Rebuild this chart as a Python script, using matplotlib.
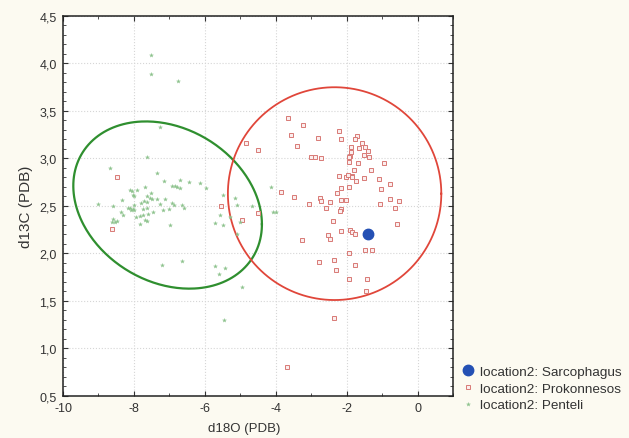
import numpy as np
import matplotlib
matplotlib.use('Agg')
import matplotlib.pyplot as plt
from matplotlib.ticker import MultipleLocator, FuncFormatter

plt.rcParams['font.family'] = ['Liberation Sans', 'DejaVu Sans']

# Datos (d18O, d13C)
sarcofago_x = [-1.40]
sarcofago_y = [2.20]

proconeso_x = [-8.47, -8.63, -5.53, -4.96, -4.83, -4.51, -4.51, -3.65, -3.23, -3.58,
               -2.22, -1.70, -2.80, -2.15, -1.77, -1.57, -3.39, -1.89, -1.65, -1.48,
               -1.40, -1.87, -1.90, -1.94, -1.51, -1.37, -3.01, -2.90, -2.73, -1.94,
               -1.67, -0.96, -1.30, -1.79, -2.22, -2.03, -1.96, -1.86, -1.84, -1.52,
               -1.09, -1.73, -0.78, -1.94, -2.17, -1.02, -3.86, -2.26, -3.48, -2.76,
               -2.73, -2.48, -2.17, -2.03, -0.79, -0.53, -1.07, -3.06, -2.59, -2.17,
               -2.20, -0.63, -2.39, -0.57, -2.15, -1.90, -1.84, -1.77, -2.54, -2.48,
               -3.26, -1.47, -1.29, -1.94, -2.36, -2.77, -1.77, -2.29, -1.94, -1.42,
               -1.46, -2.36, -3.67]
proconeso_y = [2.80, 2.26, 2.50, 2.35, 3.16, 3.09, 2.43, 3.43, 3.35, 3.25,
               3.29, 3.24, 3.22, 3.20, 3.20, 3.16, 3.13, 3.12, 3.11, 3.12,
               3.08, 3.07, 3.03, 3.02, 3.04, 3.02, 3.02, 3.02, 3.01, 2.96,
               2.95, 2.95, 2.88, 2.88, 2.82, 2.81, 2.83, 2.82, 2.80, 2.79,
               2.78, 2.76, 2.73, 2.70, 2.69, 2.68, 2.65, 2.64, 2.59, 2.58,
               2.55, 2.54, 2.56, 2.56, 2.57, 2.55, 2.52, 2.52, 2.48, 2.47,
               2.45, 2.48, 2.34, 2.31, 2.24, 2.25, 2.23, 2.21, 2.19, 2.15,
               2.14, 2.04, 2.04, 2.01, 1.93, 1.91, 1.88, 1.83, 1.73, 1.73,
               1.60, 1.32, 0.80]

penteli_x = [-7.27, -7.64, -8.68, -7.36, -7.15, -6.70, -6.45, -6.14, -5.97, -6.94,
             -6.85, -6.78, -6.70, -7.69, -8.11, -8.06, -7.91, -7.52, -8.04, -8.00,
             -7.64, -7.55, -7.50, -7.36, -7.12, -8.35, -7.72, -7.63, -7.80, -7.27,
             -6.94, -9.02, -8.58, -7.99, -6.87, -6.64, -6.59, -7.64, -8.16, -8.11,
             -8.04, -8.08, -8.00, -7.75, -7.19, -7.01, -7.46, -8.37, -8.30, -7.83,
             -7.94, -7.75, -7.60, -8.58, -8.54, -8.49, -8.63, -7.69, -7.64, -7.83,
             -6.99, -7.20, -6.65, -5.50, -5.14, -5.09, -4.66, -4.12, -4.08, -3.98,
             -5.58, -5.28, -5.70, -5.48, -5.01, -5.08, -5.72, -5.43, -5.61, -4.94,
             -7.53, -7.53, -6.75, -5.46]
penteli_y = [3.33, 3.02, 2.90, 2.85, 2.76, 2.77, 2.75, 2.74, 2.69, 2.71,
             2.71, 2.70, 2.69, 2.70, 2.67, 2.66, 2.67, 2.64, 2.62, 2.60,
             2.60, 2.58, 2.57, 2.57, 2.57, 2.56, 2.55, 2.54, 2.53, 2.52,
             2.53, 2.52, 2.50, 2.51, 2.51, 2.51, 2.48, 2.48, 2.48, 2.48,
             2.47, 2.46, 2.46, 2.47, 2.46, 2.47, 2.44, 2.44, 2.41, 2.39,
             2.38, 2.41, 2.42, 2.36, 2.33, 2.34, 2.33, 2.35, 2.34, 2.31,
             2.30, 1.88, 1.92, 2.62, 2.58, 2.51, 2.50, 2.70, 2.44, 2.44,
             2.40, 2.38, 2.32, 2.30, 2.33, 2.20, 1.87, 1.85, 1.78, 1.65,
             4.09, 3.89, 3.82, 1.30]

# Elipses de confianza: centro (x, y), semiejes en x e y, desfase
elipse_penteli = dict(cx=-7.05, cy=2.51, ax=2.66, ay=0.88, desfase=np.arccos(-0.23))
elipse_proconeso = dict(cx=-2.34, cy=2.63, ax=3.01, ay=1.12, desfase=np.pi / 2)

etiquetas = ['location2: Sarcophagus', 'location2: Prokonnesos', 'location2: Penteli']

color_fondo = '#fcfaf1'
color_rojo = '#e0463a'
color_verde = '#2f8f2f'


def curva_elipse(p, n=300):
    t = np.linspace(0, 2 * np.pi, n)
    return p['cx'] + p['ax'] * np.cos(t), p['cy'] + p['ay'] * np.cos(t - p['desfase'])


fig = plt.figure(figsize=(6.29, 4.39), dpi=100, facecolor=color_fondo)
ax = fig.add_axes([0.1002, 0.0957, 0.62, 0.8656])
ax.set_facecolor('white')

# Elipses
ex, ey = curva_elipse(elipse_penteli)
ax.plot(ex, ey, color=color_verde, lw=1.6, zorder=3)
ex, ey = curva_elipse(elipse_proconeso)
ax.plot(ex, ey, color=color_rojo, lw=1.3, zorder=3)

# Puntos
h_sar, = ax.plot(sarcofago_x, sarcofago_y, 'o', color='#2450b4', ms=7.5, zorder=5, ls='none')
h_pro, = ax.plot(proconeso_x, proconeso_y, 's', mfc='#fbeeee', mec='#d87a76', ms=2.7, mew=0.7,
                 zorder=4, ls='none')
h_pen, = ax.plot(penteli_x, penteli_y, '*', color='#8cc28c', ms=3.0, mew=0.2, zorder=4, ls='none')

ax.set_xlim(-10, 1)
ax.set_ylim(0.5, 4.5)

ax.xaxis.set_major_locator(MultipleLocator(2))
ax.xaxis.set_minor_locator(MultipleLocator(1))
ax.yaxis.set_major_locator(MultipleLocator(0.5))
ax.yaxis.set_minor_locator(MultipleLocator(0.1))
ax.xaxis.set_major_formatter(FuncFormatter(lambda v, p: f"{v:.0f}"))
ax.yaxis.set_major_formatter(FuncFormatter(lambda v, p: f"{v:.1f}".replace('.', ',')))

ax.tick_params(which='both', direction='in', top=True, right=True, colors='#333333',
               labelcolor='#333333', labelsize=9)
ax.tick_params(which='major', length=3.5, width=0.8, pad=4.5)
ax.tick_params(which='minor', length=2.2, width=0.6)

ax.grid(True, which='major', color='#d6d6d6', linestyle=':', linewidth=0.8)
for s in ax.spines.values():
    s.set_color('#222222')
    s.set_linewidth(1.1)

ax.set_xlabel('d18O (PDB)', fontsize=9.5, color='#333333')
ax.set_ylabel('d13C (PDB)', fontsize=11, color='#333333')
ax.xaxis.set_label_coords(0.464, -0.068)
ax.yaxis.set_label_coords(-0.077, 0.5)

fig.legend([h_sar, h_pro, h_pen], etiquetas, loc='upper left',
           bbox_to_anchor=(0.735, 0.165), frameon=False, fontsize=9.7,
           handlelength=0.8, handletextpad=0.5, labelspacing=0.32, borderpad=0,
           borderaxespad=0, labelcolor='#333333')

fig.savefig('out.png', dpi=100, facecolor=color_fondo)
